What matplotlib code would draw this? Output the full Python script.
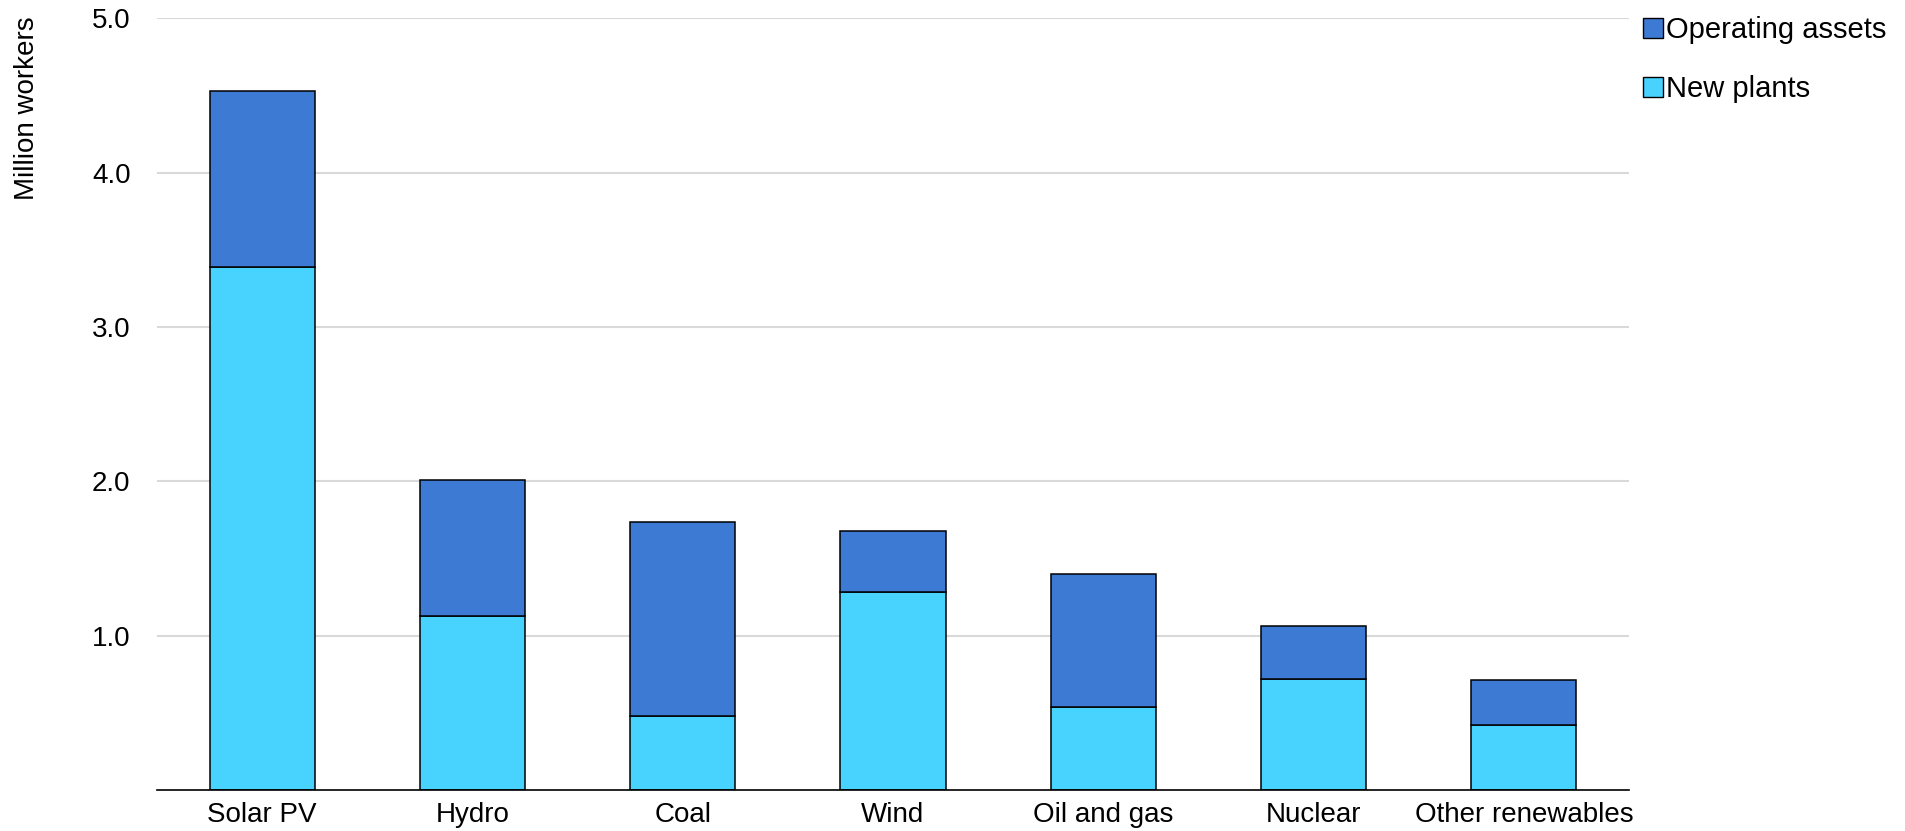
import matplotlib
matplotlib.use("Agg")
import matplotlib.pyplot as plt
from matplotlib.patches import Patch

plt.rcParams['font.family'] = ['Liberation Sans', 'DejaVu Sans']

categories = ["Solar PV", "Hydro", "Coal", "Wind", "Oil and gas", "Nuclear", "Other renewables"]
new_plants = [3.39, 1.13, 0.48, 1.28, 0.54, 0.72, 0.42]
operating_assets = [1.14, 0.88, 1.255, 0.40, 0.86, 0.34, 0.29]
yticks = [1.0, 2.0, 3.0, 4.0, 5.0]
ytick_labels = ["1.0", "2.0", "3.0", "4.0", "5.0"]

c_new = "#48D3FF"
c_op = "#3D7AD4"

fig = plt.figure(figsize=(19.06, 8.31), dpi=100)
ax = fig.add_axes([157/1906, 1-790/831, (1629-157)/1906, (790-18.3)/831])

x = list(range(len(categories)))
ax.bar(x, new_plants, width=0.5, color=c_new, edgecolor="black", linewidth=1.1, zorder=3)
ax.bar(x, operating_assets, width=0.5, bottom=new_plants, color=c_op, edgecolor="black", linewidth=1.1, zorder=3)

ax.set_xlim(-0.5, len(categories) - 0.5)
ax.set_ylim(0, 5.0)
ax.set_yticks(yticks)
ax.set_yticklabels(ytick_labels)
ax.set_xticks(x)
ax.set_xticklabels(categories)
ax.tick_params(axis='both', length=0, labelsize=20)
ax.tick_params(axis='y', pad=19)
ax.tick_params(axis='x', pad=9)
ax.yaxis.grid(True, color="#D9D9D9", linewidth=1.5, zorder=0)
ax.set_axisbelow(True)
for s in ["top", "right", "left"]:
    ax.spines[s].set_visible(False)
ax.spines["bottom"].set_color("black")
ax.spines["bottom"].set_linewidth(1.2)
ax.spines["bottom"].set_zorder(4)

fig.text(27/1906, 1-108/831, "Million workers", rotation=90, fontsize=20, ha="center", va="center")

handles = [Patch(facecolor=c_op, edgecolor="black", linewidth=1.0, label="Operating assets"),
           Patch(facecolor=c_new, edgecolor="black", linewidth=1.0, label="New plants")]
fig.legend(handles=handles, loc="upper left", bbox_to_anchor=(1637/1906, 1 - 10/831),
           frameon=False, fontsize=21, handlelength=0.68, handleheight=0.68,
           handletextpad=0.12, labelspacing=1.08, borderaxespad=0, borderpad=0.2)

fig.savefig("out.png", dpi=100)
